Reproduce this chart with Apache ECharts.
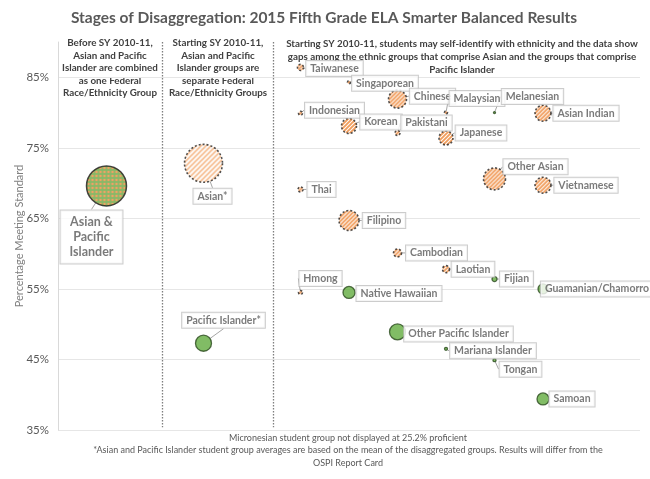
<!DOCTYPE html>
<html><head><meta charset="utf-8">
<script src="https://cdn.jsdelivr.net/npm/echarts@6/dist/echarts.min.js"></script>
<style>html,body{margin:0;padding:0;background:#fff}#c{width:650px;height:479px}</style>
</head><body><div id="c"></div>
<script>
// ---- data ----
const groups = ['Asian & Pacific Islander','Asian*','Pacific Islander*','Taiwanese','Singaporean','Chinese','Malaysian','Melanesian','Asian Indian','Indonesian','Korean','Pakistani','Japanese','Other Asian','Vietnamese','Thai','Filipino','Cambodian','Laotian','Fijian','Hmong','Native Hawaiian','Guamanian/Chamorro','Other Pacific Islander','Mariana Islander','Tongan','Samoan'];
const labelText = ['Asian &\nPacific\nIslander','Asian*','Pacific Islander*','Taiwanese','Singaporean','Chinese','Malaysian','Melanesian','Asian Indian','Indonesian','Korean','Pakistani','Japanese','Other Asian','Vietnamese','Thai','Filipino','Cambodian','Laotian','Fijian','Hmong','Native Hawaiian','Guamanian/Chamorro','Other Pacific Islander','Mariana Islander','Tongan','Samoan'];
const columnSlot = [0,2,2,4,5,6,7,8,9,4,5,6,7,8,9,4,5,6,7,8,4,5,9,6,7,8,9];
const pctMeeting = [69.6,72.8,47.3,86.4,84.3,81.9,80.0,80.0,79.9,79.9,78.1,77.1,76.4,70.6,69.7,69.1,64.7,60.1,57.8,56.4,54.5,54.5,55.0,48.9,46.5,44.9,39.4];
const students = [6100,5500,980,140,35,1230,35,15,970,60,860,95,745,1840,970,95,1520,245,185,95,60,550,380,970,35,35,550];
const family = ['combined','asianAll','pi','asian','asian','asian','asian','pi','asian','asian','asian','asian','asian','asian','asian','asian','asian','asian','asian','pi','asian','pi','pi','pi','pi','pi','pi'];
const stageBreaks = [1.14, 3.43];
const yMin = 35, yMax = 90, yStep = 10;
const title = 'Stages of Disaggregation: 2015 Fifth Grade ELA Smarter Balanced Results';
const headers = [
  'Before SY 2010-11,\nAsian and Pacific\nIslander are combined\nas one Federal\nRace/Ethnicity Group',
  'Starting SY 2010-11,\nAsian and Pacific\nIslander groups are\nseparate Federal\nRace/Ethnicity Groups',
  'Starting SY 2010-11, students may self-identify with ethnicity and the data show\ngaps among the ethnic groups that comprise Asian and the groups that comprise\nPacific Islander'
];
const footnotes = [
  'Micronesian student group not displayed at 25.2% proficient',
  '*Asian and Pacific Islander student group averages are based on the mean of the disaggregated groups. Results will differ from the\nOSPI Report Card'
];

// ---- label layout offsets (label box centre relative to bubble centre, px) ----
const labelShift = {
  'Asian & Pacific Islander':[-15,51],'Asian*':[9,33],'Pacific Islander*':[20,-23],
  'Taiwanese':[34,1],'Singaporean':[36,1],'Chinese':[35,-3],'Malaysian':[31,-14],'Melanesian':[38,-16],
  'Asian Indian':[43,0],'Indonesian':[34,-3],'Korean':[32,-4],'Pakistani':[29,-10],'Japanese':[35,-5],
  'Other Asian':[41,-12],'Vietnamese':[43,0],'Thai':[21,0],'Filipino':[35,0],'Cambodian':[39,0],
  'Laotian':[27,0],'Fijian':[22,0],'Hmong':[20,-14],'Native Hawaiian':[50,1],'Guamanian/Chamorro':[54,0],
  'Other Pacific Islander':[61,2],'Mariana Islander':[47,2],'Tongan':[26,9],'Samoan':[29,0]
};

// ---- patterns ----
function stripes(bg, fg, period, lw){
  const c = document.createElement('canvas'); c.width = c.height = period;
  const g = c.getContext('2d'); g.fillStyle = bg; g.fillRect(0,0,period,period);
  g.strokeStyle = fg; g.lineWidth = lw; g.beginPath();
  g.moveTo(0,period); g.lineTo(period,0);
  g.moveTo(-period/2,period/2); g.lineTo(period/2,-period/2);
  g.moveTo(period/2,period*1.5); g.lineTo(period*1.5,period/2);
  g.stroke(); return c;
}
function dots(bg, fg, period, r){
  const c = document.createElement('canvas'); c.width = c.height = period;
  const g = c.getContext('2d'); g.fillStyle = bg; g.fillRect(0,0,period,period);
  g.fillStyle = fg; g.beginPath(); g.arc(period/2,period/2,r,0,Math.PI*2); g.fill(); return c;
}
const patStripeAll = stripes('#ffffff','#F29A55',5,1.4);
const patStripe = stripes('#ffffff','#EE8636',4,1.9);
const patDots = dots('#69A843','#EE8A3E',4,1.3);
const sizeOf = n => 0.512*Math.sqrt(n);
function styleFor(fam, n){
  const k = 2/sizeOf(n); // symbol paths are unit-sized and scaled; undo that for patterns
  const pat = img => ({image:img, repeat:'repeat', scaleX:k, scaleY:k});
  if (fam==='combined') return {color:pat(patDots), borderColor:'#1a1a1a', borderWidth:1.5, borderType:'solid'};
  if (fam==='asianAll') return {color:pat(patStripeAll), borderColor:'#262626', borderWidth:1.6, borderType:[2,2]};
  if (fam==='asian') return {color:pat(patStripe), borderColor:'#262626', borderWidth:1.6, borderType:[2,2]};
  return {color:'#62AB3F', borderColor:'#2B4A1E', borderWidth:1.3, borderType:'solid'};
}

const FONT = 'Lato, "Open Sans", sans-serif';
const data = groups.map((g,i)=>{
  const item = {
    name: g, value:[columnSlot[i], pctMeeting[i], students[i]],
    itemStyle: styleFor(family[i], students[i]),
    label: {formatter: labelText[i]}
  };
  if (family[i]==='combined') {
    item.label = {formatter: labelText[i], fontSize:12.5, lineHeight:15, padding:[4,9], align:'center'};
  }
  return item;
});

const chart = echarts.init(document.getElementById('c'), null, {renderer:'canvas'});
chart.setOption({
  animation:false,
  backgroundColor:'#ffffff',
  grid:{left:58, right:10, top:42, bottom:49, containLabel:false},
  xAxis:{type:'value', min:-1, max:11, show:false},
  yAxis:{type:'value', min:yMin, max:yMax, interval:yStep,
    name:'Percentage Meeting Standard', nameLocation:'middle', nameGap:33, nameRotate:90, nameMoveOverlap:false,
    nameTextStyle:{color:'#7f7f7f', fontSize:11, fontFamily:FONT},
    axisLine:{show:true, onZero:false, lineStyle:{color:'#d9d9d9', width:1}},
    axisTick:{show:false},
    axisLabel:{formatter:'{value}%', color:'#595959', fontSize:11.5, fontFamily:FONT, margin:9, showMaxLabel:false},
    splitLine:{show:true, showMaxLine:false, lineStyle:{color:'#e6e6e6', width:1}}
  },
  series:[{
    type:'scatter', clip:false,
    symbolSize: v => sizeOf(v[2]),
    data: data,
    label:{show:true, position:'inside', color:'#595959', fontFamily:FONT, fontWeight:'bold', fontSize:10.5,
      backgroundColor:'#ffffff', borderColor:'#bfbfbf', borderWidth:1, padding:[2,4,1,4], lineHeight:12},
    labelLine:{show:true, length2:0, lineStyle:{color:'#a6a6a6', width:1}},
    labelLayout: p => { const s = labelShift[groups[p.dataIndex]]; return {dx:s[0], dy:s[1]}; },
    markLine:{silent:true, symbol:['none','none'], label:{show:false},
      lineStyle:{color:'#7f7f7f', type:[1.5,1.5], width:1.3},
      data: stageBreaks.map(x=>[{coord:[x,yMax]},{coord:[x,yMin+0.4]}])
    },
    z:3
  }],
  graphic:[
    {type:'text', x:324, y:18, style:{text:title, textAlign:'center', textVerticalAlign:'middle', font:'bold 15.5px '+FONT, fill:'#595959'}},
    {type:'text', x:110, y:37, style:{text:headers[0], textAlign:'center', textVerticalAlign:'top', font:'bold 9.8px '+FONT, fill:'#404040', lineHeight:12.5}},
    {type:'text', x:218, y:37, style:{text:headers[1], textAlign:'center', textVerticalAlign:'top', font:'bold 9.8px '+FONT, fill:'#404040', lineHeight:12.5}},
    {type:'text', x:462, y:37, style:{text:headers[2], textAlign:'center', textVerticalAlign:'top', font:'bold 9.8px '+FONT, fill:'#404040', lineHeight:13}},
    {type:'text', x:348, y:432, style:{text:footnotes[0], textAlign:'center', textVerticalAlign:'top', font:'9px '+FONT, fill:'#595959', lineHeight:12.5}},
    {type:'text', x:348, y:444, style:{text:footnotes[1], textAlign:'center', textVerticalAlign:'top', font:'9px '+FONT, fill:'#595959', lineHeight:12.5}}
  ]
});
</script></body></html>
